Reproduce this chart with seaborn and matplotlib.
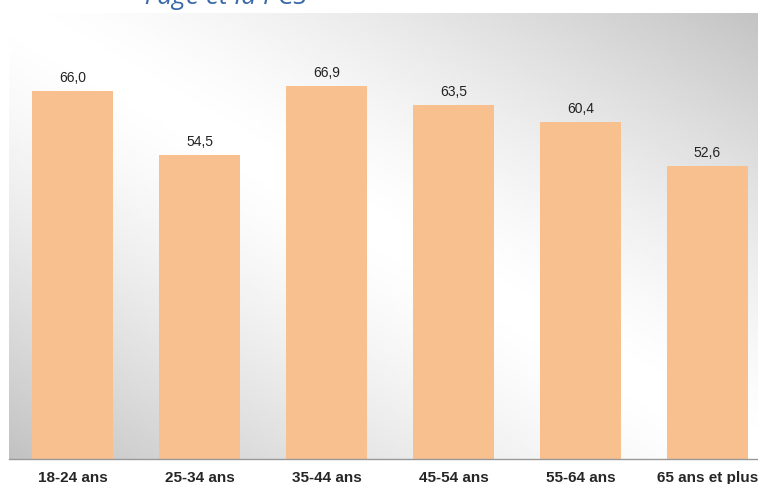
import numpy as np
import seaborn as sns
from matplotlib import pylab as plt

categories = ["18-24 ans", "25-34 ans", "35-44 ans", "45-54 ans", "55-64 ans", "65 ans et plus"]
values = [66.0, 54.5, 66.9, 63.5, 60.4, 52.6]
labels = ["66,0", "54,5", "66,9", "63,5", "60,4", "52,6"]

sns.set_style("white")
plt.rcParams['font.family'] = ['Liberation Sans', 'DejaVu Sans']

fig = plt.figure(figsize=(7.58, 4.85), dpi=100)
# plot area runs a bit past the right edge of the picture, as in the original
ax = fig.add_axes([9 / 758, 25 / 485, 762 / 758, 446 / 485])

# diagonal grey-white-grey gradient background
gx, gy = np.meshgrid(np.linspace(0, 1, 300), np.linspace(0, 1, 200))
shade = 1 - 0.24 * np.abs(gx + gy - 1) ** 1.4
ax.imshow(shade, cmap='gray', vmin=0, vmax=1, extent=(0, 1, 0, 1),
          transform=ax.transAxes, origin='lower', aspect='auto', zorder=0,
          interpolation='bilinear')

sns.barplot(x=categories, y=values, color="#F9C08F", saturation=1, width=0.64,
            ax=ax, zorder=2, edgecolor='none', linewidth=0)

for i, (v, lab) in enumerate(zip(values, labels)):
    ax.annotate(lab, (i, v), xytext=(0, 5), textcoords="offset points",
                ha='center', va='bottom', fontsize=10, color="#222222")

ax.set_xlim(-0.5, len(categories) - 0.5)
ax.set_ylim(0, 80)
ax.set_yticks([])
ax.set_xlabel("")
ax.set_ylabel("")

ax.set_xticks(np.arange(-0.5, len(categories)), minor=True)
ax.tick_params(axis='x', which='major', length=0, pad=8, labelsize=11)
ax.tick_params(axis='x', which='minor', length=4, width=1, color="#999999", direction='out')
for t in ax.get_xticklabels():
    t.set_fontweight('bold')

for s in ['left', 'top', 'right']:
    ax.spines[s].set_visible(False)
ax.spines['bottom'].set_color("#999999")
ax.spines['bottom'].set_linewidth(1)

fig.text(145 / 758, 1 - 4 / 485, "l'âge et la PCS", fontsize=19, style='italic',
         color="#3A67A8", family=['Open Sans', 'DejaVu Sans'], va='baseline', ha='left')

fig.savefig("out.png", dpi=100)
